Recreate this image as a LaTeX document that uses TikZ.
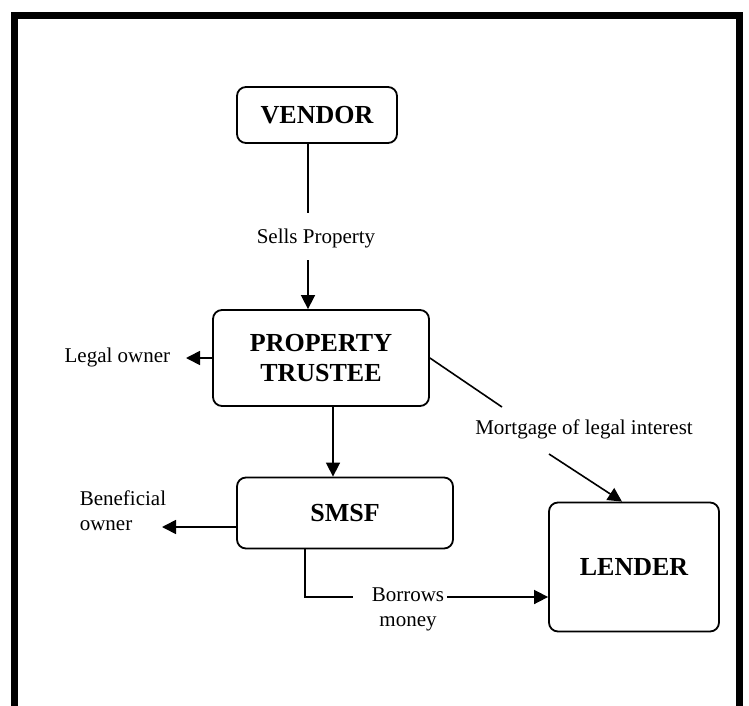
\documentclass[tikz,border=0pt]{standalone}
\usepackage{fontspec}
\setmainfont{Liberation Serif}
\usetikzlibrary{arrows.meta}
\begin{document}
\begin{tikzpicture}[x=1pt, y=-1pt, line width=1.6pt,
  box/.style={draw, rounded corners=9pt, line width=1.8pt, align=center, inner sep=0pt, font=\bfseries\fontsize{26}{30}\selectfont},
  lbl/.style={inner sep=0pt, align=center, font=\fontsize{21}{25}\selectfont},
  arr/.style={-{Triangle[length=14pt, width=14pt]}}]
\useasboundingbox (0,0) rectangle (749,706);
\draw[line width=7pt] (14,706) -- (14,16) -- (739,16) -- (739,706);

\node[box, minimum width=160pt, minimum height=56pt] (vendor) at (317,115) {VENDOR};
\node[box, minimum width=216pt, minimum height=96pt] (trustee) at (321,358) {PROPERTY\\TRUSTEE};
\node[box, minimum width=216pt, minimum height=71pt] (smsf) at (345,513) {SMSF};
\node[box, minimum width=170pt, minimum height=129pt] (lender) at (634,567) {LENDER};

\node[lbl] (sells) at (316,238) {Sells Property};
\node[lbl, anchor=east] (legal) at (171,357) {Legal owner};
\node[lbl, anchor=west, align=left] (benef) at (79,511) {Beneficial\\owner};
\node[lbl] (mortgage) at (584,429) {Mortgage of legal interest};
\node[lbl] (borrows) at (408,609) {Borrows\\money};

\coordinate (sellsa) at (308,213);
\coordinate (sellsb) at (308,260);
\coordinate (legalend) at (186,358);
\coordinate (downmid) at (333,440);
\coordinate (benefend) at (162,527);
\coordinate (borrowsa) at (353,597);
\coordinate (borrowsb) at (447,597);
\coordinate (mortga) at (502,407);
\coordinate (mortgb) at (549,454);
\coordinate (mortgc) at (622,454);

\draw (vendor.south -| sellsa) -- (sellsa);
\draw[arr] (sellsb) -- (trustee.north -| sellsb);
\draw[arr] (trustee.west |- legalend) -- (legalend);
\draw[arr] (trustee.south -| downmid) -- (smsf.north -| downmid);
\draw[arr] (smsf.west |- benefend) -- (benefend);
\draw (smsf.south -| 305,0) |- (borrowsa);
\draw[arr] (borrowsb) -- (lender.west |- borrowsb);
\draw (trustee.east |- legalend) -- (mortga);
\draw[arr] (mortgb) -- (lender.north -| mortgc);
\end{tikzpicture}
\end{document}
